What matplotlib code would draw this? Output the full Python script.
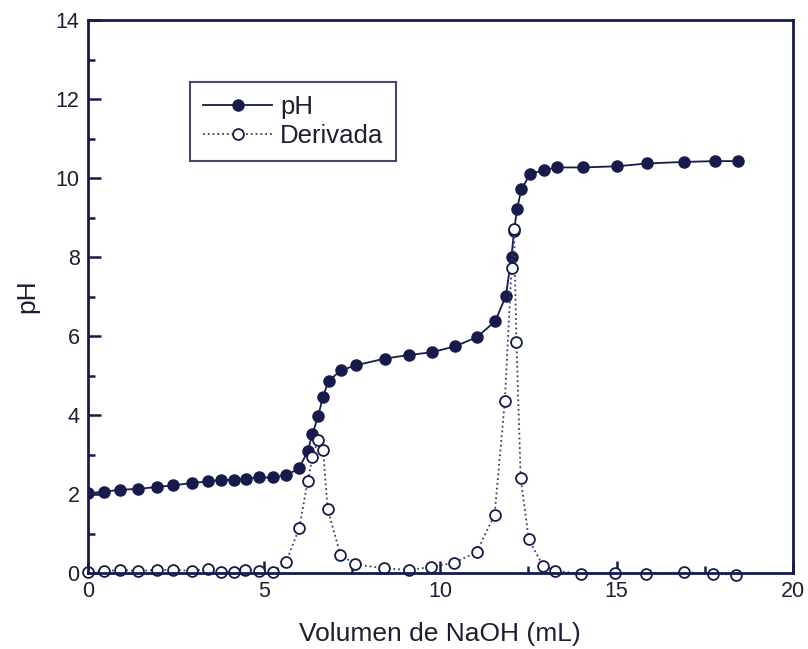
import matplotlib
matplotlib.use('Agg')
import matplotlib.pyplot as plt
from matplotlib.ticker import MultipleLocator

# --- DATA ---
vol_ph = [0, 0.45, 0.92, 1.42, 1.95, 2.42, 2.94, 3.41, 3.76, 4.14, 4.47, 4.86, 5.24,
          5.63, 5.99, 6.23, 6.37, 6.53, 6.67, 6.83, 7.18, 7.60, 8.42, 9.10, 9.75,
          10.42, 11.05, 11.56, 11.86, 12.02, 12.09, 12.18, 12.30, 12.55, 12.93,
          13.30, 14.04, 15.02, 15.86, 16.92, 17.81, 18.45]
ph = [2.02, 2.06, 2.11, 2.13, 2.18, 2.22, 2.28, 2.32, 2.36, 2.36, 2.39, 2.42, 2.42,
      2.48, 2.65, 3.08, 3.52, 3.97, 4.47, 4.87, 5.13, 5.26, 5.43, 5.52, 5.59,
      5.74, 5.98, 6.38, 7.02, 8.01, 8.66, 9.23, 9.72, 10.10, 10.20,
      10.27, 10.27, 10.30, 10.37, 10.41, 10.43, 10.43]

vol_der = [0, 0.45, 0.92, 1.42, 1.95, 2.42, 2.94, 3.41, 3.76, 4.13, 4.46, 4.86, 5.24,
           5.62, 5.99, 6.24, 6.37, 6.52, 6.67, 6.80, 7.16, 7.58, 8.40, 9.10, 9.73,
           10.39, 11.03, 11.54, 11.83, 12.02, 12.09, 12.16, 12.28, 12.51, 12.91,
           13.26, 13.99, 14.97, 15.83, 16.91, 17.74, 18.40]
derivada = [0.02, 0.05, 0.08, 0.05, 0.08, 0.08, 0.06, 0.10, 0.03, 0.02, 0.09, 0.05, 0.02,
            0.28, 1.13, 2.34, 2.94, 3.36, 3.12, 1.62, 0.47, 0.22, 0.12, 0.08, 0.15,
            0.26, 0.53, 1.48, 4.35, 7.73, 8.70, 5.86, 2.40, 0.85, 0.19,
            0.06, -0.02, 0.0, -0.02, 0.02, -0.02, -0.04]

navy = '#161b4c'
text_col = '#1c1f33'

plt.rcParams['font.family'] = ['Liberation Sans', 'DejaVu Sans']

fig = plt.figure(figsize=(8.08, 6.49), dpi=100)
ax = fig.add_axes([0.109, 0.117, 0.872, 0.852])

ax.plot(vol_ph, ph, '-', color=navy, linewidth=1.3, marker='o', markersize=8,
        markerfacecolor=navy, markeredgecolor=navy, label='pH', zorder=3)
ax.plot(vol_der, derivada, ':', color='#3a3f66', linewidth=1.3, marker='o', markersize=7.8,
        markerfacecolor='white', markeredgecolor=navy, markeredgewidth=1.3,
        label='Derivada', zorder=4, clip_on=False)

ax.set_xlim(0, 20)
ax.set_ylim(0, 14)
ax.xaxis.set_major_locator(MultipleLocator(5))
ax.xaxis.set_minor_locator(MultipleLocator(2.5))
ax.yaxis.set_major_locator(MultipleLocator(2))
ax.yaxis.set_minor_locator(MultipleLocator(1))
ax.tick_params(which='both', direction='in', colors=navy, width=1.8,
               top=False, right=False, labelsize=15.5, labelcolor=text_col)
ax.tick_params(which='major', length=9, pad=6)
ax.tick_params(which='minor', length=5)

for s in ax.spines.values():
    s.set_color(navy)
    s.set_linewidth(2)
    s.set_zorder(5)

ax.set_xlabel('Volumen de NaOH (mL)', fontsize=19, color=text_col, labelpad=14)
ax.set_ylabel('pH', fontsize=19, color=text_col, labelpad=12)

leg = ax.legend(loc='upper left', bbox_to_anchor=(0.145, 0.888), fontsize=18.5,
                frameon=True, fancybox=False, handlelength=2.7, borderpad=0.5,
                labelspacing=0.2, handletextpad=0.3, borderaxespad=0)
leg.get_frame().set_edgecolor(navy)
leg.get_frame().set_linewidth(1.5)
for t in leg.get_texts():
    t.set_color(text_col)

fig.savefig('out.png', dpi=100)
